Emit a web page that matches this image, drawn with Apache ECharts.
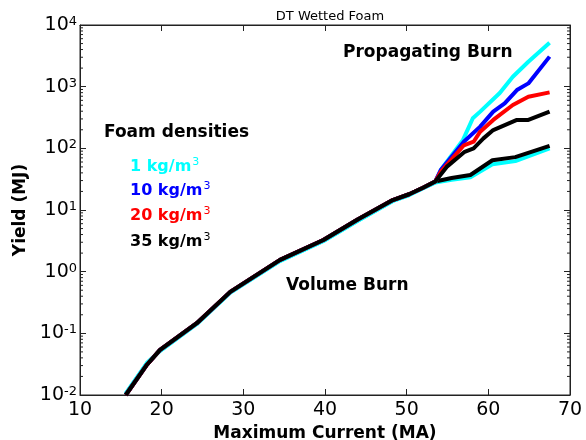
<!DOCTYPE html>
<html>
<head>
<meta charset="utf-8">
<script src="https://cdn.jsdelivr.net/npm/echarts@6/dist/echarts.min.js"></script>
<style>html,body{margin:0;padding:0;background:#fff;}#c{width:586px;height:440px;}</style>
</head>
<body>
<div id="c"></div>
<script>
// Shared (volume-burn) trunk, common to all densities
const trunkX = [15.6, 18.2, 19.8, 24.3, 28.4, 34.5, 39.8, 44.0, 48.3, 50.3, 52.0, 53.5];
const trunkY = [0.01, 0.031, 0.054, 0.146, 0.47, 1.55, 3.26, 7.0, 14.5, 18.0, 23.0, 29.0];
const trunkCyanY = [0.0105, 0.033, 0.052, 0.142, 0.46, 1.5, 3.15, 6.7, 14.0, 17.5, 22.5, 28.0];

// Volume burn branch (lower)
const volX = [53.5, 55.5, 57.8, 60.5, 63.3, 67.5];
const volCyanY  = [28, 31, 34, 55, 62, 100];
const volBlackY = [29, 33, 37, 64, 72, 110];

// Propagating burn branches (upper)
const cyanX  = [53.5, 54.2, 56.9, 58.1, 59.0, 61.4, 63.0, 64.9, 67.5];
const cyanY  = [29, 45, 137, 307, 394, 790, 1450, 2540, 5170];
const blueX  = [53.5, 54.2, 57.0, 59.0, 60.6, 62.0, 63.5, 64.9, 67.5];
const blueY  = [29, 45, 128, 225, 394, 537, 880, 1130, 3070];
const redX   = [53.5, 54.2, 57.0, 58.2, 59.0, 60.6, 63.0, 64.9, 67.5];
const redY   = [29, 42, 112, 128, 186, 289, 504, 688, 807];
const blackX = [53.5, 54.9, 57.1, 58.2, 59.4, 60.6, 63.5, 64.9, 67.5];
const blackY = [29, 50, 88, 100, 145, 198, 289, 289, 394];

function pts(xs, ys) { return xs.map((x, i) => [x, ys[i]]); }
function full(xs, ys, ty) { return pts(trunkX, ty || trunkY).concat(pts(xs, ys).slice(1)); }

const minorVals = [];
for (let d = -2; d < 4; d++) for (let m = 2; m <= 9; m++) minorVals.push(m * Math.pow(10, d));

const chart = echarts.init(document.getElementById('c'), null, {renderer: 'canvas'});
const FONT = 'DejaVu Sans';
const lw = 4;
function line(name, data, color, z) {
  return {name, type: 'line', data, showSymbol: false, symbol: 'none', z: z,
    lineStyle: {color, width: lw, join: 'round'}, itemStyle: {color}, animation: false};
}
const supAxis = {fontFamily: FONT, fontSize: 13, fontWeight: 'normal', verticalAlign: 'top', lineHeight: 20, padding: [0, 0, 9, 0]};
const supLeg = {fontFamily: FONT, fontSize: 11, fontWeight: 'normal', verticalAlign: 'top', lineHeight: 20, padding: [0, 0, 8, 1]};
const axisCol = '#222';

chart.setOption({
  animation: false,
  backgroundColor: '#fff',
  title: {text: 'DT Wetted Foam', left: 325, top: 5, textAlign: 'center',
    textStyle: {fontFamily: FONT, fontSize: 13, fontWeight: 'normal', color: '#000'}},
  grid: {left: 80, right: 16, top: 25, bottom: 45, containLabel: false, outerBoundsMode: 'none',
    show: true, borderColor: axisCol, borderWidth: 1},
  xAxis: [{
    type: 'value', min: 10, max: 70, interval: 10, position: 'bottom',
    name: 'Maximum Current (MA)', nameLocation: 'middle', nameGap: 28,
    nameTextStyle: {fontFamily: FONT, fontSize: 17, fontWeight: 'bold', color: '#000'},
    axisLine: {show: true, lineStyle: {color: axisCol, width: 1}},
    axisTick: {show: true, inside: true, length: 6, lineStyle: {color: axisCol}},
    axisLabel: {fontFamily: FONT, fontSize: 19, color: '#000', margin: 6},
    splitLine: {show: false}
  }, {
    type: 'value', min: 10, max: 70, interval: 10, position: 'top',
    axisLine: {show: true, lineStyle: {color: axisCol}},
    axisTick: {show: true, inside: true, length: 6, lineStyle: {color: axisCol}},
    axisLabel: {show: false}, splitLine: {show: false}
  }],
  yAxis: [{
    type: 'log', logBase: 10, min: 0.01, max: 10000, splitNumber: 6,
    name: 'Yield (MJ)', nameLocation: 'middle', nameGap: 50, nameRotate: 90,
    nameTextStyle: {fontFamily: FONT, fontSize: 17, fontWeight: 'bold', color: '#000'},
    axisLine: {show: true, lineStyle: {color: axisCol}},
    axisTick: {show: true, inside: true, length: 6, lineStyle: {color: axisCol}},
    axisLabel: {margin: 3, color: '#000',
      formatter: function (v) {
        const e = Math.round(Math.log10(v));
        return '{b|10}{s|' + e + '}';
      },
      rich: {b: {fontFamily: FONT, fontSize: 19, color: '#000', lineHeight: 20},
             s: Object.assign({color: '#000'}, supAxis)}},
    splitLine: {show: false}
  }, {
    type: 'log', logBase: 10, min: 0.01, max: 10000, splitNumber: 6, position: 'right',
    axisLine: {show: true, lineStyle: {color: axisCol}},
    axisTick: {show: true, inside: true, length: 6, lineStyle: {color: axisCol}},
    axisLabel: {show: false}, splitLine: {show: false}
  }],
  series: [
    {type: 'custom', name: 'minorTicks', silent: true, z: 10, clip: false,
      coordinateSystem: 'cartesian2d', xAxisIndex: 0, yAxisIndex: 0,
      data: minorVals.map(v => [10, v]),
      renderItem: function (params, api) {
        const v = api.value(1);
        const l = api.coord([10, v]);
        const r = api.coord([70, v]);
        return {type: 'group', children: [
          {type: 'line', shape: {x1: l[0], y1: l[1], x2: l[0] + 3, y2: l[1]}, style: {stroke: axisCol, lineWidth: 1}},
          {type: 'line', shape: {x1: r[0], y1: r[1], x2: r[0] - 3, y2: r[1]}, style: {stroke: axisCol, lineWidth: 1}}
        ]};
      }},
    line('1 kg/m3 volume', full(volX, volCyanY, trunkCyanY), '#00ffff', 2),
    line('35 kg/m3 volume', full(volX, volBlackY), '#000000', 3),
    line('1 kg/m3', full(cyanX, cyanY, trunkCyanY), '#00ffff', 4),
    line('10 kg/m3', full(blueX, blueY), '#0000ff', 5),
    line('20 kg/m3', full(redX, redY), '#ff0000', 6),
    line('35 kg/m3', full(blackX, blackY), '#000000', 7)
  ],
  graphic: [
    {type: 'text', left: 343, top: 44, style: {text: 'Propagating Burn', fontFamily: FONT, fontSize: 17, fontWeight: 'bold', fill: '#000'}},
    {type: 'text', left: 286, top: 277, style: {text: 'Volume Burn', fontFamily: FONT, fontSize: 17, fontWeight: 'bold', fill: '#000'}},
    {type: 'text', left: 104, top: 124, style: {text: 'Foam densities', fontFamily: FONT, fontSize: 17, fontWeight: 'bold', fill: '#000'}},
    {type: 'text', left: 130, top: 157, style: {text: '{t|1 kg/m}{s|3}', rich: {t: {fontFamily: FONT, fontSize: 16, fontWeight: 'bold', fill: '#00ffff', lineHeight: 20}, s: Object.assign({fill: '#00ffff'}, supLeg)}}},
    {type: 'text', left: 130, top: 181, style: {text: '{t|10 kg/m}{s|3}', rich: {t: {fontFamily: FONT, fontSize: 16, fontWeight: 'bold', fill: '#0000ff', lineHeight: 20}, s: Object.assign({fill: '#0000ff'}, supLeg)}}},
    {type: 'text', left: 130, top: 206, style: {text: '{t|20 kg/m}{s|3}', rich: {t: {fontFamily: FONT, fontSize: 16, fontWeight: 'bold', fill: '#ff0000', lineHeight: 20}, s: Object.assign({fill: '#ff0000'}, supLeg)}}},
    {type: 'text', left: 130, top: 232, style: {text: '{t|35 kg/m}{s|3}', rich: {t: {fontFamily: FONT, fontSize: 16, fontWeight: 'bold', fill: '#000000', lineHeight: 20}, s: Object.assign({fill: '#000000'}, supLeg)}}}
  ]
});
</script>
</body>
</html>
